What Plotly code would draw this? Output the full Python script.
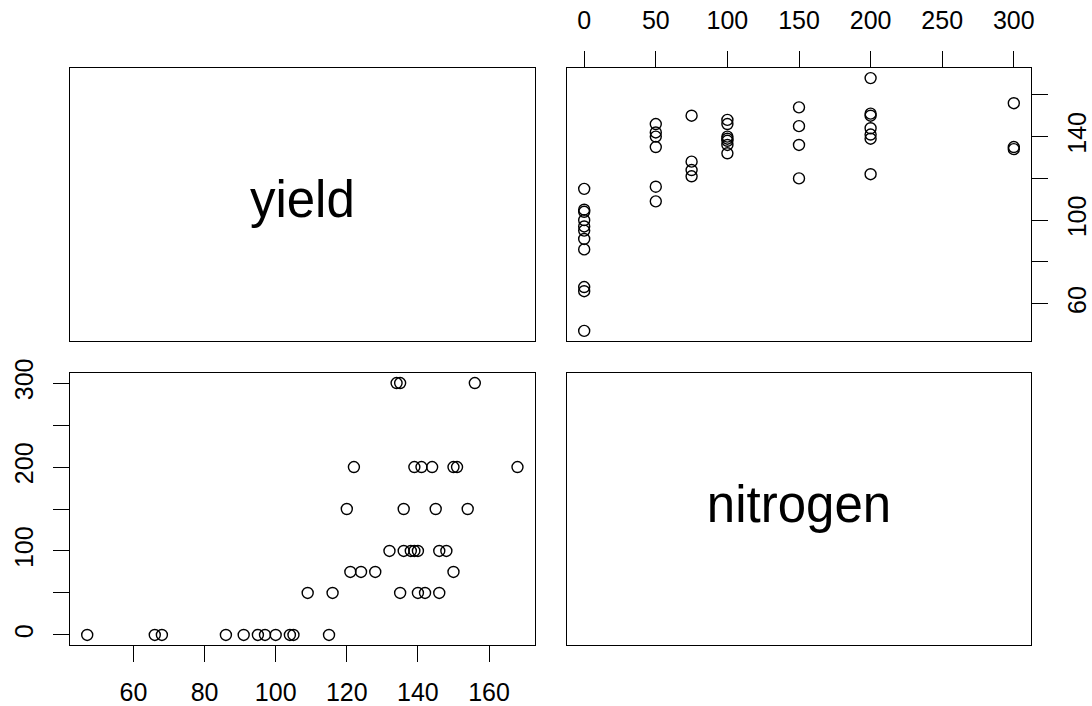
import plotly.graph_objects as go

# Yield observations grouped by nitrogen application rate
nitrogen = [0] * 11 + [50] * 6 + [75] * 4 + [100] * 7 + [150] * 4 + [200] * 7 + [300] * 3
yield_ = [47, 66, 68, 86, 91, 95, 97, 100, 104, 105, 115,
          109, 116, 135, 140, 142, 146,
          121, 124, 128, 150,
          132, 136, 138, 139, 140, 146, 148,
          120, 136, 145, 154,
          122, 139, 141, 144, 150, 151, 168,
          134, 135, 156]

var_names = ["yield", "nitrogen"]

yield_ticks = [60, 80, 100, 120, 140, 160]
yield_ticks_side = ["60", "", "100", "", "140", ""]
yield_ticks_bottom = ["60", "80", "100", "120", "140", "160"]
nitro_ticks = [0, 50, 100, 150, 200, 250, 300]
nitro_ticks_top = ["0", "50", "100", "150", "200", "250", "300"]
nitro_ticks_left = ["0", "", "100", "", "200", "", "300"]


def padded(vals):
    lo, hi = min(vals), max(vals)
    d = (hi - lo) * 0.04
    return [lo - d, hi + d]


W, H = 1092, 706
left_dom = [70 / W, 534.7 / W]
right_dom = [567 / W, 1031 / W]
top_dom = [(H - 341) / H, (H - 68) / H]
bot_dom = [(H - 645) / H, (H - 373) / H]

FONT = "Liberation Sans, Arial, sans-serif"
TICK_FONT = dict(family=FONT, size=25, color="black")

marker = dict(symbol="circle-open", size=11, color="black", line=dict(width=1.4, color="black"))

fig = go.Figure()
# lower-left: yield vs nitrogen
fig.add_trace(go.Scatter(x=yield_, y=nitrogen, mode="markers", marker=marker,
                         xaxis="x", yaxis="y", showlegend=False, cliponaxis=False))
# upper-right: nitrogen vs yield
fig.add_trace(go.Scatter(x=nitrogen, y=yield_, mode="markers", marker=marker,
                         xaxis="x2", yaxis="y2", showlegend=False, cliponaxis=False))
# diagonal panels: variable names
fig.add_trace(go.Scatter(x=[0.5], y=[0.5], mode="text", text=[var_names[0]],
                         textfont=dict(family=FONT, size=51, color="black"),
                         xaxis="x3", yaxis="y3", showlegend=False, hoverinfo="skip"))
fig.add_trace(go.Scatter(x=[0.5], y=[0.5], mode="text", text=[var_names[1]],
                         textfont=dict(family=FONT, size=51, color="black"),
                         xaxis="x4", yaxis="y4", showlegend=False, hoverinfo="skip"))

box = dict(showline=True, linecolor="black", linewidth=1.3, mirror=True,
           showgrid=False, zeroline=False, automargin=False)
tick = dict(ticks="outside", ticklen=16, tickwidth=1.3, tickcolor="black", tickfont=TICK_FONT)

yr = padded(yield_)
nr = padded(nitrogen)

fig.update_layout(
    template="none",
    width=W, height=H,
    margin=dict(l=0, r=0, t=0, b=0, pad=0),
    paper_bgcolor="white", plot_bgcolor="white",
    font=dict(family=FONT, color="black"),
    xaxis=dict(domain=left_dom, anchor="y", range=yr, tickvals=yield_ticks,
               ticktext=yield_ticks_bottom, ticklabelstandoff=9, **tick, **box),
    yaxis=dict(domain=bot_dom, anchor="x", range=nr, tickvals=nitro_ticks,
               ticktext=nitro_ticks_left, tickangle=-90, ticklabelstandoff=10,
               **tick, **box),
    xaxis2=dict(domain=right_dom, anchor="y2", side="top", range=nr,
                tickvals=nitro_ticks, ticktext=nitro_ticks_top,
                ticklabelstandoff=12, **tick, **box),
    yaxis2=dict(domain=top_dom, anchor="x2", side="right", range=yr,
                tickvals=yield_ticks, ticktext=yield_ticks_side, tickangle=-90,
                ticklabelstandoff=8, **tick, **box),
    xaxis3=dict(domain=left_dom, anchor="y3", range=[0, 1], showticklabels=False, ticks="", **box),
    yaxis3=dict(domain=top_dom, anchor="x3", range=[0, 1], showticklabels=False, ticks="", **box),
    xaxis4=dict(domain=right_dom, anchor="y4", range=[0, 1], showticklabels=False, ticks="", **box),
    yaxis4=dict(domain=bot_dom, anchor="x4", range=[0, 1], showticklabels=False, ticks="", **box),
)

fig.write_html("out.html")
